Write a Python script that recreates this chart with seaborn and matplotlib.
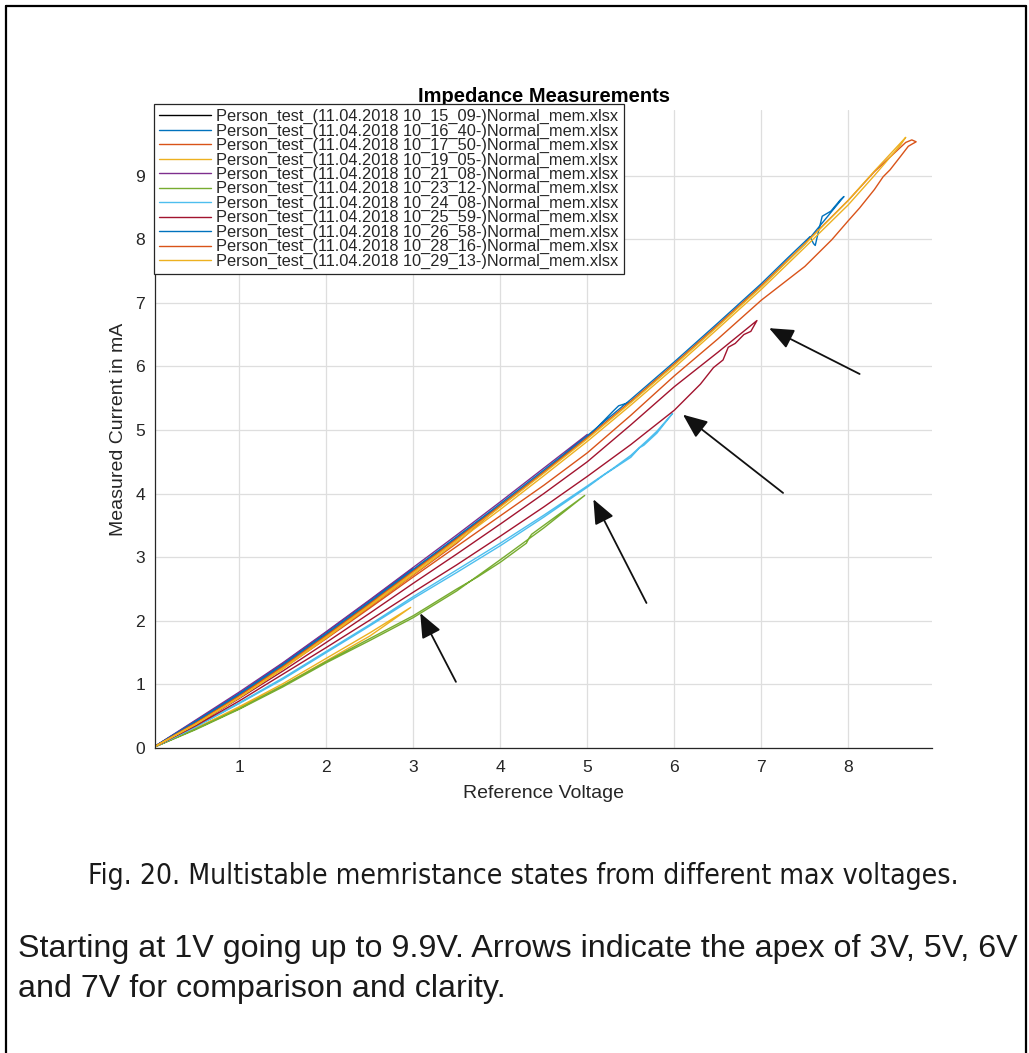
import matplotlib
matplotlib.use("Agg")
import matplotlib.pyplot as plt
from matplotlib.lines import Line2D
from matplotlib import font_manager as fm
import pandas as pd
import seaborn as sns

# ---------------- data ----------------
series_labels = [
    "Person_test_(11.04.2018 10_15_09-)Normal_mem.xlsx",
    "Person_test_(11.04.2018 10_16_40-)Normal_mem.xlsx",
    "Person_test_(11.04.2018 10_17_50-)Normal_mem.xlsx",
    "Person_test_(11.04.2018 10_19_05-)Normal_mem.xlsx",
    "Person_test_(11.04.2018 10_21_08-)Normal_mem.xlsx",
    "Person_test_(11.04.2018 10_23_12-)Normal_mem.xlsx",
    "Person_test_(11.04.2018 10_24_08-)Normal_mem.xlsx",
    "Person_test_(11.04.2018 10_25_59-)Normal_mem.xlsx",
    "Person_test_(11.04.2018 10_26_58-)Normal_mem.xlsx",
    "Person_test_(11.04.2018 10_28_16-)Normal_mem.xlsx",
    "Person_test_(11.04.2018 10_29_13-)Normal_mem.xlsx",
]
series_colors = ["#000000", "#0072BD", "#D95319", "#EDB120", "#7E2F8E", "#77AC30",
                 "#4DBEEE", "#A2142F", "#0072BD", "#D95319", "#EDB120"]

s1_x = [0, 0.5, 1.0, 1.5, 1.95, 1.5, 1.0, 0.5, 0]
s1_y = [0, 0.42, 0.85, 1.31, 1.75, 1.29, 0.83, 0.40, 0]

s2_x = [0, 0.5, 1.0, 1.5, 2.0, 2.5, 3.0, 2.5, 2.0, 1.5, 1.0, 0.5, 0]
s2_y = [0, 0.43, 0.86, 1.33, 1.82, 2.32, 2.83, 2.28, 1.77, 1.28, 0.82, 0.40, 0]

s3_x = [0, 0.5, 1, 1.5, 2, 2.5, 3, 3.5, 4.0, 3.5, 3, 2.5, 2, 1.5, 1, 0.5, 0]
s3_y = [0, 0.40, 0.82, 1.28, 1.76, 2.26, 2.77, 3.28, 3.81, 3.22, 2.72, 2.22, 1.73, 1.26, 0.81, 0.39, 0]

s4_x = [0, 0.5, 1, 1.5, 2, 2.5, 2.97, 2.5, 2, 1.5, 1, 0.5, 0]
s4_y = [0, 0.31, 0.65, 1.01, 1.41, 1.81, 2.21, 1.76, 1.37, 0.98, 0.63, 0.30, 0]

s5_x = [0, 0.5, 1, 1.5, 2, 2.5, 3, 3.5, 4, 4.5, 5.0, 4.5, 4, 3.5, 3, 2.5, 2, 1.5, 1, 0.5, 0]
s5_y = [0, 0.44, 0.88, 1.34, 1.83, 2.33, 2.84, 3.35, 3.87, 4.40, 4.93, 4.33, 3.80, 3.28, 2.77, 2.27,
        1.77, 1.29, 0.83, 0.41, 0]

s6_x = [0, 0.5, 1, 1.5, 2, 2.5, 3, 3.5, 3.74, 4.0, 4.3, 4.33, 4.36, 4.6, 4.97,
        4.5, 4.0, 3.5, 3.0, 2.5, 2.0, 1.5, 1.0, 0.5, 0]
s6_y = [0, 0.30, 0.62, 0.98, 1.36, 1.72, 2.08, 2.50, 2.69, 2.92, 3.22, 3.30, 3.36, 3.60, 3.97,
        3.46, 2.96, 2.47, 2.05, 1.69, 1.34, 0.96, 0.61, 0.29, 0]

s7_x = [0, 0.5, 1, 1.5, 2, 2.5, 3, 3.5, 4, 4.5, 5, 5.3, 5.5, 5.7, 5.8, 5.98,
        5.8, 5.65, 5.6, 5.5, 5.2, 5.0, 4.5, 4.0, 3.5, 3.0, 2.5, 2.0, 1.5, 1.0, 0.5, 0]
s7_y = [0, 0.34, 0.71, 1.10, 1.52, 1.94, 2.38, 2.80, 3.22, 3.66, 4.12, 4.40, 4.60, 4.85, 4.98, 5.26,
        4.95, 4.76, 4.72, 4.57, 4.30, 4.10, 3.63, 3.18, 2.76, 2.35, 1.92, 1.50, 1.08, 0.70, 0.33, 0]

s8_x = [0, 0.5, 1, 1.5, 2, 2.5, 3, 3.5, 4, 4.5, 5, 5.5, 6, 6.5, 6.95,
        6.88, 6.8, 6.7, 6.62, 6.56, 6.45, 6.3, 6.0, 5.5, 5.0, 4.5, 4.0, 3.5, 3.0, 2.5, 2.0, 1.5, 1.0, 0.5, 0]
s8_y = [0, 0.37, 0.78, 1.21, 1.66, 2.12, 2.59, 3.05, 3.52, 4.00, 4.50, 5.08, 5.68, 6.22, 6.72,
        6.55, 6.50, 6.36, 6.30, 6.10, 5.98, 5.72, 5.31, 4.77, 4.27, 3.79, 3.33, 2.88, 2.45, 2.01, 1.58,
        1.16, 0.74, 0.35, 0]

s9_x = [0, 0.5, 1, 1.5, 2, 2.5, 3, 3.5, 4, 4.5, 5, 5.5, 6, 6.5, 7, 7.3, 7.5, 7.56, 7.6, 7.62, 7.65,
        7.7, 7.8, 7.91, 7.95,
        7.8, 7.5, 7.0, 6.5, 6.0, 5.5, 5.36, 5.3, 5.0, 4.5, 4.0, 3.5, 3.0, 2.5, 2.0, 1.5, 1.0, 0.5, 0]
s9_y = [0, 0.42, 0.85, 1.31, 1.80, 2.30, 2.81, 3.32, 3.84, 4.37, 4.91, 5.48, 6.07, 6.68, 7.30, 7.70,
        7.96, 8.04, 7.93, 7.90, 8.08, 8.36, 8.44, 8.62, 8.67,
        8.42, 7.92, 7.26, 6.64, 6.03, 5.44, 5.38, 5.30, 4.88, 4.34, 3.81, 3.30, 2.79, 2.28, 1.78, 1.29,
        0.84, 0.41, 0]

s10_x = [0, 0.5, 1, 1.5, 2, 2.5, 3, 3.5, 4, 4.5, 5, 5.5, 6, 6.5, 7, 7.5, 8, 8.3, 8.66, 8.73,
         8.78, 8.74, 8.69, 8.6, 8.48, 8.4, 8.3, 8.13, 8.0, 7.81, 7.5, 7.0, 6.5, 6.0, 5.5, 5.0, 4.5,
         4.0, 3.5, 3.0, 2.5, 2.0, 1.5, 1.0, 0.5, 0]
s10_y = [0, 0.39, 0.82, 1.28, 1.77, 2.27, 2.78, 3.29, 3.81, 4.34, 4.88, 5.45, 6.04, 6.65, 7.27, 7.93,
         8.61, 9.06, 9.52, 9.56,
         9.53, 9.50, 9.46, 9.30, 9.09, 8.98, 8.78, 8.49, 8.29, 7.99, 7.57, 7.04, 6.43, 5.85, 5.23, 4.64,
         4.13, 3.65, 3.17, 2.69, 2.20, 1.72, 1.25, 0.80, 0.39, 0]

s11_x = [0, 0.5, 1, 1.5, 2, 2.5, 3, 3.5, 4, 4.5, 5, 5.5, 6, 6.5, 7, 7.5, 8, 8.3, 8.66,
         8.6, 8.3, 8.0, 7.5, 7.0, 6.5, 6.0, 5.5, 5.0, 4.5, 4.0, 3.5, 3.0, 2.5, 2.0, 1.5, 1.0, 0.5, 0]
s11_y = [0, 0.38, 0.80, 1.26, 1.75, 2.25, 2.76, 3.27, 3.79, 4.32, 4.86, 5.43, 6.02, 6.63, 7.25, 7.92,
         8.61, 9.07, 9.60,
         9.48, 9.00, 8.54, 7.87, 7.21, 6.59, 5.98, 5.39, 4.82, 4.28, 3.75, 3.24, 2.73, 2.23, 1.73, 1.24,
         0.79, 0.37, 0]

series_x = [s1_x, s2_x, s3_x, s4_x, s5_x, s6_x, s7_x, s8_x, s9_x, s10_x, s11_x]
series_y = [s1_y, s2_y, s3_y, s4_y, s5_y, s6_y, s7_y, s8_y, s9_y, s10_y, s11_y]

x_ticks = [1, 2, 3, 4, 5, 6, 7, 8]
y_ticks = [0, 1, 2, 3, 4, 5, 6, 7, 8, 9]

# arrows: (tail_x, tail_y, tip_x, tip_y) in data units, pointing at apexes of 3V, 5V, 6V, 7V
arrows = [(3.49, 1.04, 3.08, 2.12),
          (5.68, 2.28, 5.07, 3.91),
          (7.25, 4.01, 6.10, 5.24),
          (8.13, 5.88, 7.09, 6.60)]

title_text = "Impedance Measurements"
xlabel_text = "Reference Voltage"
ylabel_text = "Measured Current in mA"
caption_text = "Fig. 20. Multistable memristance states from different max voltages."
para_line1 = "Starting at 1V going up to 9.9V. Arrows indicate the apex of 3V, 5V, 6V"
para_line2 = "and 7V for comparison and clarity."

# ---------------- build frame ----------------
rows = []
for lab, xs, ys in zip(series_labels, series_x, series_y):
    for i, (xv, yv) in enumerate(zip(xs, ys)):
        rows.append({"series": lab, "V": xv, "I": yv, "k": i})
df = pd.DataFrame(rows)

# ---------------- style ----------------
sns.set_style("white")
plt.rcParams["font.family"] = ["Liberation Sans", "DejaVu Sans"]
DARK = "#262626"

W, H = 1029, 1053
fig = plt.figure(figsize=(W / 100, H / 100), dpi=100)
ax = fig.add_axes([155 / W, 305 / H, 777 / W, 638 / H])

sns.lineplot(data=df, x="V", y="I", hue="series", hue_order=series_labels,
             palette=dict(zip(series_labels, series_colors)), sort=False,
             estimator=None, linewidth=1.0, ax=ax, legend=True)

ax.set_xlim(0.031, 8.962)
ax.set_ylim(0, 10.03)
ax.set_xticks(x_ticks)
ax.set_yticks(y_ticks)
ax.grid(True, color="#DEDEDE", linewidth=0.9)
ax.set_axisbelow(True)
for side in ["top", "right"]:
    ax.spines[side].set_visible(False)
for side in ["left", "bottom"]:
    ax.spines[side].set_color(DARK)
    ax.spines[side].set_linewidth(0.9)
ax.tick_params(direction="in", length=4, width=0.8, color=DARK, labelcolor=DARK,
               labelsize=12.6)
ax.tick_params(axis="x", pad=9)
ax.tick_params(axis="y", pad=7)
ax.set_xlabel(xlabel_text, fontsize=14, color=DARK, labelpad=7)
ax.set_ylabel(ylabel_text, fontsize=14, color=DARK, labelpad=6)
ax.set_title(title_text, fontsize=14.5, fontweight="bold", color="#000000", pad=6)

for tx, ty, hx, hy in arrows:
    ax.annotate("", xy=(hx, hy), xytext=(tx, ty),
                arrowprops=dict(arrowstyle="-|>,head_length=1.0,head_width=0.42",
                                mutation_scale=15, lw=1.3, color="#111111",
                                shrinkA=0, shrinkB=0))

sns.move_legend(ax, "upper left", bbox_to_anchor=(154 / W, 1 - 104 / H),
                bbox_transform=fig.transFigure, title=None, frameon=True,
                fontsize=11.8, labelspacing=-0.04, handlelength=3.2,
                handletextpad=0.3, borderpad=0.3, borderaxespad=0,
                fancybox=False, framealpha=1, edgecolor=DARK)
leg = ax.get_legend()
leg.get_frame().set_linewidth(0.9)
for h in leg.legend_handles:
    h.set_linewidth(1.0)


# ---------------- page texts and border ----------------
def pick_condensed():
    cands = [("Liberation Sans Narrow", "normal"), ("DejaVu Sans", "condensed"),
             ("Roboto Condensed", "normal"), ("Open Sans Condensed", "normal")]
    for fam, stretch in cands:
        try:
            path = fm.findfont(fm.FontProperties(family=fam, stretch=stretch),
                               fallback_to_default=False)
        except Exception:
            continue
        low = path.lower()
        if "narrow" in low or "condensed" in low:
            return fam, stretch
    return "Liberation Sans", "normal"


cap_fam, cap_stretch = pick_condensed()
renderer = fig.canvas.get_renderer()


def fit_width(txt, target_px, fs):
    w = txt.get_window_extent(renderer).width
    txt.set_fontsize(fs * target_px / w)


t_cap = fig.text(523 / W, 1 - 884 / H, caption_text, ha="center", va="baseline",
                 family=[cap_fam, "DejaVu Sans"], fontstretch=cap_stretch,
                 fontsize=24, color="#1A1A1A")
fit_width(t_cap, 877, 24)
t_p1 = fig.text(18 / W, 1 - 957 / H, para_line1, ha="left", va="baseline",
                fontsize=20.3, color="#1A1A1A")
fit_width(t_p1, 1000, 20.3)
t_p2 = fig.text(18 / W, 1 - 997 / H, para_line2, ha="left", va="baseline",
                fontsize=t_p1.get_fontsize(), color="#1A1A1A")

bw = 1.6
fig.add_artist(Line2D([5.5 / W, 5.5 / W], [0, 1 - 6 / H], transform=fig.transFigure,
                      color="black", lw=bw))
fig.add_artist(Line2D([1025.5 / W, 1025.5 / W], [0, 1 - 6 / H], transform=fig.transFigure,
                      color="black", lw=bw))
fig.add_artist(Line2D([5.5 / W, 1025.5 / W], [1 - 6 / H, 1 - 6 / H], transform=fig.transFigure,
                      color="black", lw=bw))

fig.savefig("out.png", dpi=100)
